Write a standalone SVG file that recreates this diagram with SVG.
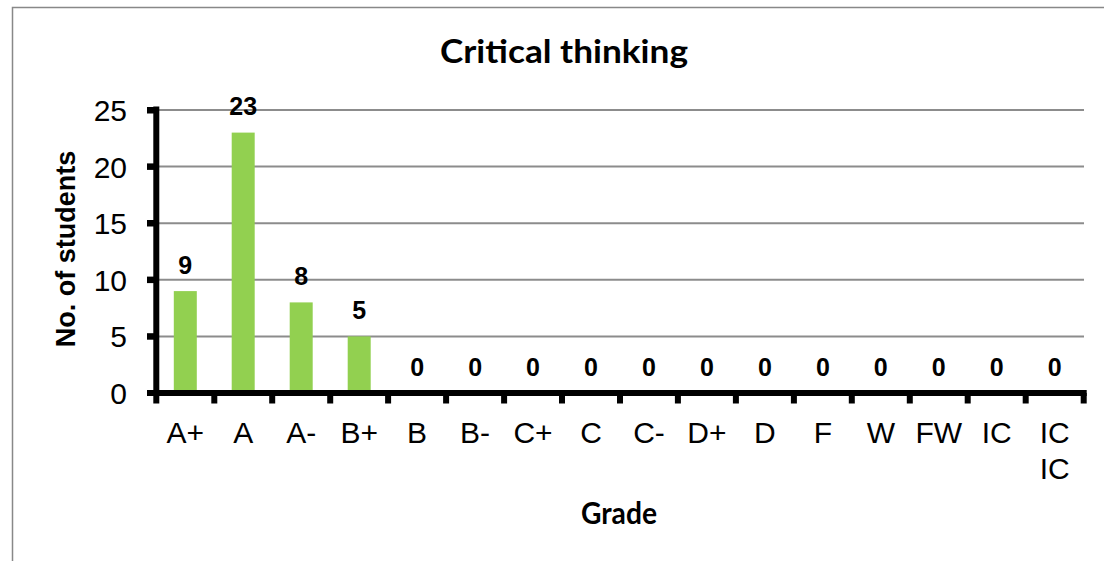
<svg xmlns="http://www.w3.org/2000/svg" width="1104" height="561" viewBox="0 0 1104 561">
<style>
.frame{fill:#fff;stroke:#888;stroke-width:1.5}
.grid{stroke:#8c8c8c;stroke-width:2}
.axis{stroke:#000;stroke-width:6;fill:none}
.tick{fill:#000}
.bar{fill:#92d050}
.ylab{font-family:"Liberation Sans",Arial,sans-serif;font-size:30px;fill:#000;text-anchor:end}
.xlab{font-family:"Liberation Sans",Arial,sans-serif;font-size:30px;fill:#000;text-anchor:middle}
.val{font-family:"Liberation Sans",Arial,sans-serif;font-size:25px;font-weight:bold;fill:#000;text-anchor:middle}
.ttl{font-family:Lato,"Open Sans",sans-serif;font-weight:bold;fill:#000;text-anchor:middle}
.ytitle{font-family:"Liberation Sans",Arial,sans-serif;font-size:27px;font-weight:bold;fill:#000;text-anchor:middle}
</style>
<rect class="frame" x="12.5" y="7.5" width="1110" height="570"/>
<text class="ttl" x="564" y="63" font-size="33" textLength="248" lengthAdjust="spacingAndGlyphs">Critical thinking</text>
<g id="gridlines">
<line class="grid" x1="157" y1="110" x2="1084" y2="110"/>
<line class="grid" x1="157" y1="166.6" x2="1084" y2="166.6"/>
<line class="grid" x1="157" y1="223.2" x2="1084" y2="223.2"/>
<line class="grid" x1="157" y1="279.8" x2="1084" y2="279.8"/>
<line class="grid" x1="157" y1="336.4" x2="1084" y2="336.4"/>
</g>
<g id="bars">
<rect class="bar" x="173.8" y="291.1" width="23" height="101.9"/>
<rect class="bar" x="231.7" y="132.6" width="23" height="260.4"/>
<rect class="bar" x="289.7" y="302.4" width="23" height="90.6"/>
<rect class="bar" x="347.7" y="336.4" width="23" height="56.6"/>
</g>
<g id="axes">
<line class="axis" x1="156.3" y1="106.5" x2="156.3" y2="403.5"/>
<line class="axis" x1="147" y1="393" x2="1086.7" y2="393"/>
<g class="tick">
<rect x="147" y="107" width="9" height="6.5"/>
<rect x="147" y="163.4" width="9" height="6.5"/>
<rect x="147" y="220" width="9" height="6.5"/>
<rect x="147" y="276.6" width="9" height="6.5"/>
<rect x="147" y="333.2" width="9" height="6.5"/>
<rect x="211.3" y="393" width="6" height="10.5"/>
<rect x="269.2" y="393" width="6" height="10.5"/>
<rect x="327.2" y="393" width="6" height="10.5"/>
<rect x="385.1" y="393" width="6" height="10.5"/>
<rect x="443.1" y="393" width="6" height="10.5"/>
<rect x="501.1" y="393" width="6" height="10.5"/>
<rect x="559" y="393" width="6" height="10.5"/>
<rect x="617" y="393" width="6" height="10.5"/>
<rect x="674.9" y="393" width="6" height="10.5"/>
<rect x="732.9" y="393" width="6" height="10.5"/>
<rect x="790.9" y="393" width="6" height="10.5"/>
<rect x="848.8" y="393" width="6" height="10.5"/>
<rect x="906.8" y="393" width="6" height="10.5"/>
<rect x="964.7" y="393" width="6" height="10.5"/>
<rect x="1022.7" y="393" width="6" height="10.5"/>
<rect x="1080.7" y="393" width="6" height="10.5"/>
</g>
</g>
<g id="y-labels">
<text class="ylab" x="127" y="121">25</text>
<text class="ylab" x="127" y="177.6">20</text>
<text class="ylab" x="127" y="234.2">15</text>
<text class="ylab" x="127" y="290.8">10</text>
<text class="ylab" x="127" y="347.4">5</text>
<text class="ylab" x="127" y="404">0</text>
</g>
<g id="values">
<text class="val" x="185.3" y="273.6">9</text>
<text class="val" x="243.2" y="115.1">23</text>
<text class="val" x="301.2" y="284.9">8</text>
<text class="val" x="359.2" y="318.9">5</text>
<text class="val" x="417.1" y="375.5">0</text>
<text class="val" x="475.1" y="375.5">0</text>
<text class="val" x="533" y="375.5">0</text>
<text class="val" x="591" y="375.5">0</text>
<text class="val" x="649" y="375.5">0</text>
<text class="val" x="706.9" y="375.5">0</text>
<text class="val" x="764.9" y="375.5">0</text>
<text class="val" x="822.9" y="375.5">0</text>
<text class="val" x="880.8" y="375.5">0</text>
<text class="val" x="938.8" y="375.5">0</text>
<text class="val" x="996.7" y="375.5">0</text>
<text class="val" x="1054.7" y="375.5">0</text>
</g>
<g id="x-labels">
<text class="xlab" x="185.3" y="442.5">A+</text>
<text class="xlab" x="243.2" y="442.5">A</text>
<text class="xlab" x="301.2" y="442.5">A-</text>
<text class="xlab" x="359.2" y="442.5">B+</text>
<text class="xlab" x="417.1" y="442.5">B</text>
<text class="xlab" x="475.1" y="442.5">B-</text>
<text class="xlab" x="533" y="442.5">C+</text>
<text class="xlab" x="591" y="442.5">C</text>
<text class="xlab" x="649" y="442.5">C-</text>
<text class="xlab" x="706.9" y="442.5">D+</text>
<text class="xlab" x="764.9" y="442.5">D</text>
<text class="xlab" x="822.9" y="442.5">F</text>
<text class="xlab" x="880.8" y="442.5">W</text>
<text class="xlab" x="938.8" y="442.5">FW</text>
<text class="xlab" x="996.7" y="442.5">IC</text>
<text class="xlab" x="1054.7" y="442.5">IC</text>
<text class="xlab" x="1054.7" y="478.5">IC</text>
</g>
<text class="ytitle" transform="translate(75,249) rotate(-90)">No. of students</text>
<text class="ttl" x="619" y="523.5" font-size="30" textLength="76" lengthAdjust="spacingAndGlyphs">Grade</text>
</svg>
